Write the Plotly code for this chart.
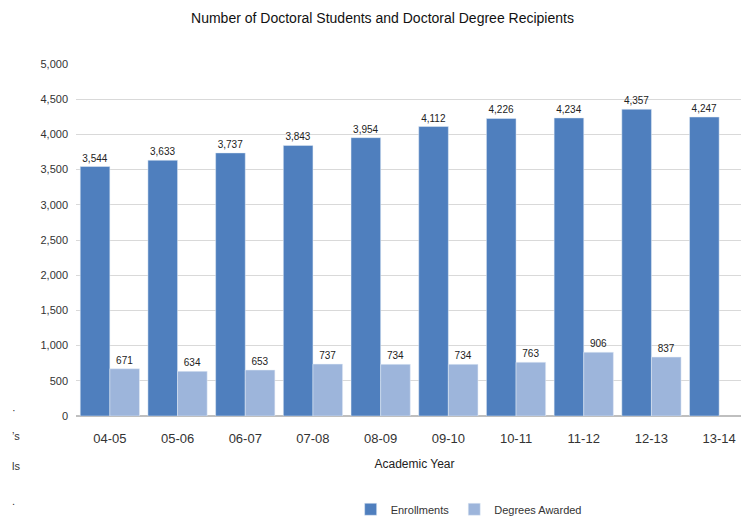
import plotly.graph_objects as go

years = ["04-05", "05-06", "06-07", "07-08", "08-09", "09-10", "10-11", "11-12", "12-13", "13-14"]
enrollments = [3544, 3633, 3737, 3843, 3954, 4112, 4226, 4234, 4357, 4247]
degrees = [671, 634, 653, 737, 734, 734, 763, 906, 837, None]

font_family = "Liberation Sans, Arial, sans-serif"

fig = go.Figure()
fig.add_trace(go.Bar(
    x=years, y=enrollments, name="Enrollments",
    marker_color="#4F7FBE",
    text=[f"{v:,}" for v in enrollments], textposition="outside",
    textfont=dict(size=10, color="#222222"), cliponaxis=False,
))
fig.add_trace(go.Bar(
    x=years, y=degrees, name="Degrees Awarded",
    marker_color="#9DB5DB",
    text=[f"{v:,}" if v is not None else "" for v in degrees], textposition="outside",
    textfont=dict(size=10, color="#222222"), cliponaxis=False,
))

fig.update_layout(
    width=749, height=523,
    margin=dict(l=68, r=4, t=56, b=115),
    paper_bgcolor="white", plot_bgcolor="white",
    font=dict(family=font_family, size=11, color="#333333"),
    title=dict(text="Number of Doctoral Students and Doctoral Degree Recipients",
               x=0.5, xanchor="center", y=0.98, yanchor="middle",
               font=dict(size=14, color="#111111", family=font_family)),
    barmode="group", bargap=0.125, bargroupgap=0,
    showlegend=True,
    legend=dict(orientation="h", x=0.58, xanchor="center", y=-0.265, yanchor="middle",
                font=dict(size=11, color="#333333"), itemwidth=30),
    xaxis=dict(type="category", automargin=False,
               title=dict(text="Academic Year", font=dict(size=12, color="#222222"), standoff=14),
               tickfont=dict(size=13, color="#333333"), showline=False, ticks="",
               ticklabelstandoff=13),
    yaxis=dict(range=[0, 5000], dtick=500, tickformat=",", showgrid=True, automargin=False,
               gridcolor="#D9D9D9", gridwidth=1, zeroline=True, zerolinecolor="#BFBFBF",
               tickfont=dict(size=11, color="#333333"), ticks="", ticklabelstandoff=7),
)

for txt, yy in [("\u00b7", -0.005), ("\u2019s", -0.08), ("ls", -0.165), (".", -0.265)]:
    fig.add_annotation(text=txt, xref="paper", yref="paper", x=-0.097, y=yy,
                       xanchor="left", showarrow=False,
                       font=dict(size=11, color="#333333"))

fig.write_html("out.html")
